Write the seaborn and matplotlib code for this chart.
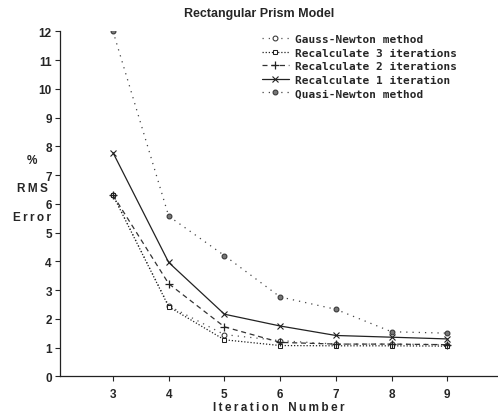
import matplotlib
matplotlib.use("Agg")
import matplotlib.pyplot as plt
import pandas as pd
import seaborn as sns

iterations = [3, 4, 5, 6, 7, 8, 9]
gauss_newton = [6.3, 2.45, 1.45, 1.24, 1.12, 1.12, 1.1]
recalc_3 = [6.3, 2.42, 1.27, 1.07, 1.06, 1.06, 1.05]
recalc_2 = [6.3, 3.22, 1.72, 1.18, 1.12, 1.12, 1.1]
recalc_1 = [7.78, 3.96, 2.16, 1.75, 1.42, 1.36, 1.3]
quasi_newton = [12.0, 5.57, 4.2, 2.76, 2.33, 1.55, 1.5]

series_labels = [
    "Gauss-Newton method",
    "Recalculate 3 iterations",
    "Recalculate 2 iterations",
    "Recalculate 1 iteration",
    "Quasi-Newton method",
]
series_values = [gauss_newton, recalc_3, recalc_2, recalc_1, quasi_newton]
y_ticks = list(range(0, 13))


def build_frame():
    rows = []
    for label, values in zip(series_labels, series_values):
        for it, val in zip(iterations, values):
            rows.append({"iteration": it, "error": val, "method": label})
    return pd.DataFrame(rows)


def spaced(word):
    return "\u2009".join(word)


def main():
    df = build_frame()
    sns.set_style("white")
    plt.rcParams["font.family"] = ["Liberation Sans", "DejaVu Sans"]

    styles = {
        "Gauss-Newton method": dict(linestyle=(0, (1, 4)), marker="o", markersize=3.5,
                                    markerfacecolor="white", markeredgecolor="#333333",
                                    color="#555555", linewidth=0.9),
        "Recalculate 3 iterations": dict(linestyle=(0, (1, 1.5)), marker="s", markersize=3.2,
                                         markerfacecolor="white", markeredgecolor="#222222",
                                         color="#222222", linewidth=0.9),
        "Recalculate 2 iterations": dict(linestyle=(0, (4, 3)), marker="+", markersize=6,
                                         markeredgewidth=0.9, markeredgecolor="#222222",
                                         color="#333333", linewidth=0.9),
        "Recalculate 1 iteration": dict(linestyle="-", marker="x", markersize=5,
                                        markeredgewidth=0.8, markeredgecolor="#222222",
                                        color="#222222", linewidth=0.9),
        "Quasi-Newton method": dict(linestyle=(0, (1, 4)), marker="o", markersize=3.5,
                                    markerfacecolor="#777777", markeredgecolor="#333333",
                                    color="#444444", linewidth=0.9),
    }

    fig = plt.figure(figsize=(4.98, 4.14), dpi=100)
    ax = fig.add_axes([59.5 / 498, 1 - 377.3 / 414, (498 - 59.5) / 498, (377.3 - 32.3) / 414])

    for label in series_labels:
        sub = df[df["method"] == label]
        sns.lineplot(data=sub, x="iteration", y="error", ax=ax, label=label,
                     errorbar=None, **styles[label])

    ax.set_xlim(2.04, 9.91)
    ax.set_ylim(0, 12)
    ax.set_xticks(iterations)
    ax.set_yticks(y_ticks)
    ax.tick_params(axis="both", which="major", direction="out", length=3.5, width=0.8,
                   labelsize=8.5, pad=2, left=True, bottom=True)
    for t in ax.get_xticklabels() + ax.get_yticklabels():
        t.set_fontweight("bold")
    ax.tick_params(axis="x", pad=5)

    sns.despine(ax=ax)
    for side in ["left", "bottom"]:
        ax.spines[side].set_color("#222222")
        ax.spines[side].set_linewidth(0.9)

    ax.set_xlabel(spaced("Iteration") + "   " + spaced("Number"), fontsize=8.5,
                  fontweight="bold", labelpad=1)
    ax.set_ylabel("")
    for text, ypix in [("%", 161), (spaced("RMS"), 189), (spaced("Error"), 218)]:
        fig.text(32 / 498, 1 - ypix / 414, text, fontsize=8.5, fontweight="bold",
                 ha="center", va="center")

    fig.text(259 / 498, 1 - 14 / 414, "Rectangular Prism Model", fontsize=9,
             fontweight="bold", ha="center", va="center")

    handles, labels = ax.get_legend_handles_labels()
    ax.legend(handles, labels, loc="upper left", bbox_to_anchor=(262 / 498, 1 - 35 / 414),
              bbox_transform=fig.transFigure, frameon=False,
              prop={"family": "DejaVu Sans Mono", "weight": "bold", "size": 8},
              handlelength=2.4, handletextpad=0.6, labelspacing=0.32, borderaxespad=0,
              borderpad=0)

    fig.savefig("out.png", dpi=100)


if __name__ == "__main__":
    main()
